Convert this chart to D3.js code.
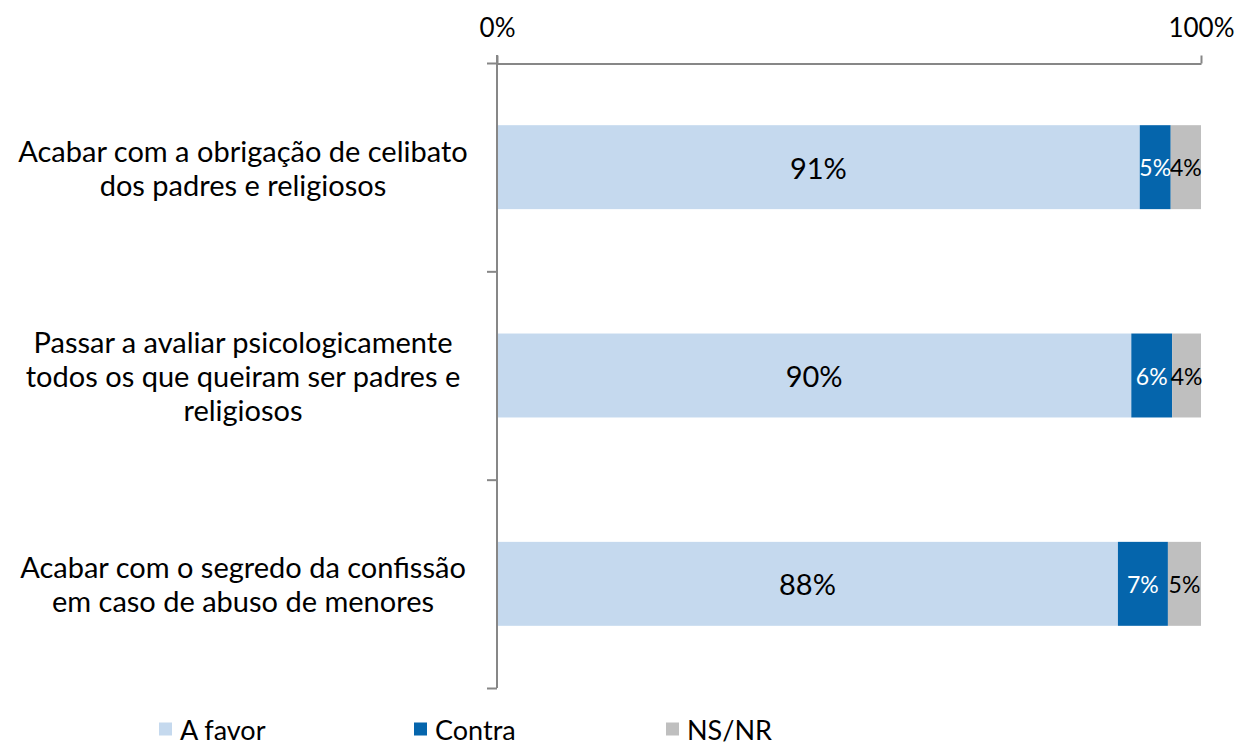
<!DOCTYPE html>
<html>
<head>
<meta charset="utf-8">
<script src="https://cdn.jsdelivr.net/npm/d3@7"></script>
<style>
  html, body { margin: 0; padding: 0; background: #fff; }
  svg { display: block; font-family: Lato, "Open Sans", sans-serif; }
</style>
</head>
<body>
<svg id="chart" width="1239" height="743"></svg>
<script>
// ---- data ----
const categories = [
  "Acabar com a obrigação de celibato dos padres e religiosos",
  "Passar a avaliar psicologicamente todos os que queiram ser padres e religiosos",
  "Acabar com o segredo da confissão em caso de abuso de menores"
];
const categoryLines = [
  ["Acabar com a obrigação de celibato", "dos padres e religiosos"],
  ["Passar a avaliar psicologicamente", "todos os que queiram ser padres e", "religiosos"],
  ["Acabar com o segredo da confissão", "em caso de abuso de menores"]
];
const seriesNames = ["A favor", "Contra", "NS/NR"];
const aFavor = [91.3, 90.1, 88.2];
const contra = [4.4, 5.8, 7.1];
const nsnr   = [4.3, 4.1, 4.7];
const aFavorLabels = ["91%", "90%", "88%"];
const contraLabels = ["5%", "6%", "7%"];
const nsnrLabels   = ["4%", "4%", "5%"];
const tickValues = [0, 100];
const tickLabels = ["0%", "100%"];

const colors = ["#C5D9EE", "#0565AC", "#BFBFBF"];
const labelColors = ["#000", "#fff", "#000"];
const axisColor = "#878787";

const svg = d3.select("#chart");
const x = d3.scaleLinear().domain([0, 100]).range([497, 1201]);
const y = d3.scaleBand().domain(categories).range([63, 688]).paddingInner(0.597).paddingOuter(0.2985);

const seriesVals = [aFavor, contra, nsnr];
const seriesLabels = [aFavorLabels, contraLabels, nsnrLabels];

const data = categories.map((c, i) => {
  let acc = 0;
  return seriesNames.map((s, k) => {
    const v = seriesVals[k][i];
    const seg = { cat: c, k, x0: acc, x1: acc + v, label: seriesLabels[k][i] };
    acc += v;
    return seg;
  });
});

// bars
const g = svg.append("g");
data.forEach(segs => {
  g.selectAll(null).data(segs).enter().append("rect")
    .attr("x", d => x(d.x0))
    .attr("y", d => y(d.cat))
    .attr("width", d => x(d.x1) - x(d.x0))
    .attr("height", y.bandwidth())
    .attr("fill", d => colors[d.k]);
  g.selectAll(null).data(segs).enter().append("text")
    .attr("x", d => (x(d.x0) + x(d.x1)) / 2)
    .attr("y", d => y(d.cat) + y.bandwidth() / 2)
    .attr("text-anchor", "middle")
    .attr("dominant-baseline", "central")
    .attr("font-size", d => d.k === 0 ? 29 : 23)
    .attr("fill", d => labelColors[d.k])
    .text(d => d.label);
});

// top axis
const xAxis = d3.axisTop(x).tickValues(tickValues)
  .tickFormat((d, i) => tickLabels[i]).tickSize(8).tickSizeOuter(0).tickPadding(19);
const gx = svg.append("g").attr("transform", "translate(0,63.5)").call(xAxis);
gx.select(".domain").attr("stroke", axisColor).attr("stroke-width", 2);
gx.selectAll(".tick line").attr("stroke", axisColor).attr("stroke-width", 2);
gx.selectAll(".tick text").attr("font-size", 26).attr("fill", "#000").attr("font-family", "Lato, sans-serif");

// left axis (ticks at band boundaries)
const [r0, r1] = y.range();
const yb = d3.scaleLinear().domain([0, categories.length]).range([r0, r1]);
const yAxis = d3.axisLeft(yb).tickValues(d3.range(categories.length + 1))
  .tickFormat("").tickSize(10).tickSizeOuter(0);
const gy = svg.append("g").attr("transform", "translate(497,0)").call(yAxis);
gy.select(".domain").attr("stroke", axisColor).attr("stroke-width", 2)
  .attr("d", `M0,${r0 - 8}V${r1}`);
gy.selectAll(".tick line").attr("stroke", axisColor).attr("stroke-width", 2);

// category labels
categories.forEach((c, i) => {
  const lines = categoryLines[i];
  const cy = y(c) + y.bandwidth() / 2;
  const lh = 34;
  const t = svg.append("text")
    .attr("text-anchor", "middle")
    .attr("font-size", 29)
    .attr("fill", "#000");
  lines.forEach((ln, j) => {
    t.append("tspan")
      .attr("x", 243)
      .attr("y", cy + (j - (lines.length - 1) / 2) * lh)
      .attr("dominant-baseline", "central")
      .text(ln);
  });
});

// legend
const legendX = [159, 414, 666];
const lg = svg.append("g").selectAll("g").data(seriesNames).enter().append("g")
  .attr("transform", (d, i) => `translate(${legendX[i]},729)`);
lg.append("rect").attr("x", 0).attr("y", -6.5).attr("width", 13).attr("height", 13)
  .attr("fill", (d, i) => colors[i]);
lg.append("text").attr("x", 21).attr("y", 0).attr("dominant-baseline", "central")
  .attr("font-size", 27).attr("fill", "#000").text(d => d);
</script>
</body>
</html>
